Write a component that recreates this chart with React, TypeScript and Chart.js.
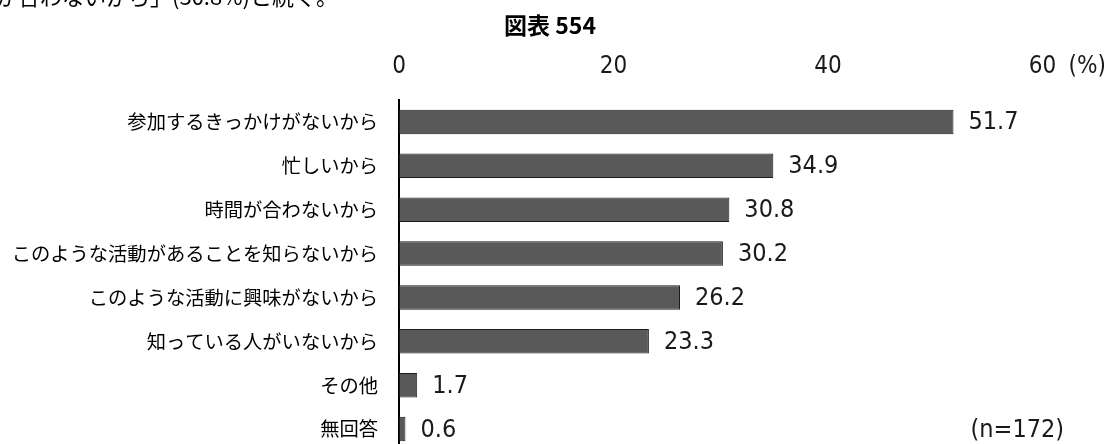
import React, { useEffect, useRef } from "react";
import { Chart, registerables } from "chart.js";

Chart.register(...registerables);

const categories = [
  "参加するきっかけがないから",
  "忙しいから",
  "時間が合わないから",
  "このような活動があることを知らないから",
  "このような活動に興味がないから",
  "知っている人がいないから",
  "その他",
  "無回答",
];
const values = [51.7, 34.9, 30.8, 30.2, 26.2, 23.3, 1.7, 0.6];
const xTicks = [0, 20, 40, 60];
const chartTitle = "図表 554";
const unitLabel = "(%)";
const sampleNote = "(n=172)";
const introText = "「時間が合わないから」(30.8%)と続く。";

const NUM_FONT = "'DejaVu Sans Condensed', 'DejaVu Sans', sans-serif";
const JP_FONT = "'Noto Sans CJK JP', sans-serif";

const textPlugin = {
  id: "textPlugin",
  afterDatasetsDraw(chart: any) {
    const ctx = chart.ctx;
    const meta = chart.getDatasetMeta(0);
    const xs = chart.scales.x;
    ctx.save();
    ctx.fillStyle = "#1a1a1a";
    ctx.textBaseline = "middle";
    ctx.textAlign = "left";
    ctx.font = `25px ${NUM_FONT}`;
    meta.data.forEach((bar: any, i: number) => {
      ctx.fillText(values[i].toFixed(1), bar.x + 15, bar.y + 1);
    });
    ctx.font = `24px ${NUM_FONT}`;
    const xMax = xs.getPixelForValue(xTicks[xTicks.length - 1]);
    ctx.fillText(unitLabel, xMax + 26, 67);
    const last = meta.data[meta.data.length - 1];
    ctx.font = `25px ${NUM_FONT}`;
    ctx.fillText(sampleNote, chart.chartArea.right - 72, last.y + 1);
    ctx.font = `bold 23px ${JP_FONT}`;
    ctx.fillStyle = "#000";
    ctx.textAlign = "center";
    ctx.fillText(chartTitle, 550, 25);
    ctx.restore();
  },
};

export default function App() {
  const ref = useRef<HTMLCanvasElement | null>(null);
  useEffect(() => {
    document.body.style.margin = "0";
    document.body.style.overflow = "hidden";
    const canvas = ref.current;
    if (!canvas) return;
    const chart = new Chart(canvas, {
      type: "bar",
      data: {
        labels: categories,
        datasets: [
          {
            data: values,
            backgroundColor: "#595959",
            borderColor: "#1a1a1a",
            borderWidth: 1,
            borderSkipped: false,
            barPercentage: 1,
            categoryPercentage: 0.56,
          },
        ],
      },
      options: {
        indexAxis: "y",
        animation: false,
        responsive: false,
        devicePixelRatio: 1,
        layout: { padding: { left: 0, right: 67.5, top: 0, bottom: 1 } },
        plugins: {
          legend: { display: false },
          tooltip: { enabled: false },
          title: { display: false },
        },
        scales: {
          x: {
            position: "top",
            min: 0,
            max: 60,
            afterBuildTicks: (s: any) => {
              s.ticks = xTicks.map((v) => ({ value: v }));
            },
            afterFit: (s: any) => {
              s.height = 100;
            },
            grid: { display: false, drawTicks: false },
            border: { display: false },
            ticks: {
              padding: 19,
              color: "#1a1a1a",
              font: { family: NUM_FONT, size: 24 },
              maxRotation: 0,
            },
          },
          y: {
            afterFit: (s: any) => {
              s.width = 399;
              s.paddingTop = 0;
              s.paddingBottom = 0;
            },
            grid: { display: false, drawTicks: false },
            border: { display: true, color: "#000", width: 2 },
            ticks: {
              padding: 21,
              color: "#000",
              font: { family: JP_FONT, size: 19.3 },
              autoSkip: false,
            },
          },
        },
      },
      plugins: [textPlugin],
    } as any);
    return () => chart.destroy();
  }, []);

  return (
    <div style={{ position: "relative", width: 1110, height: 444, overflow: "hidden", background: "#fff" }}>
      <div
        style={{
          position: "absolute",
          left: -70,
          top: -16.5,
          fontFamily: JP_FONT,
          fontSize: 22,
          lineHeight: "22px",
          whiteSpace: "nowrap",
          color: "#000",
        }}
      >
        {introText}
      </div>
      <canvas ref={ref} width={1110} height={452} style={{ display: "block" }} />
    </div>
  );
}
